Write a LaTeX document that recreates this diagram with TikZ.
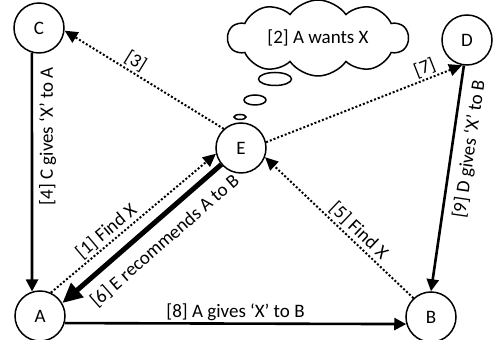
\documentclass[tikz,border=0pt]{standalone}
\usepackage{fontspec}
\setmainfont{Carlito}
\usetikzlibrary{arrows.meta,shapes.symbols}

\begin{document}
\begin{tikzpicture}[x=0.5pt,y=0.5pt,font=\fontsize{9.5}{11}\selectfont,
  agent/.style={draw, circle, line width=0.75pt, minimum size=25pt, inner sep=0pt},
  ask/.style={line width=1pt, densely dotted, -{Triangle[length=6.5pt,width=6pt]}},
  give/.style={line width=1.3pt, -{Triangle[length=6pt,width=6pt]}},
  lbl/.style={inner sep=1pt}]
\useasboundingbox (0,0) rectangle (494,340);
% the five parties
\node[agent] (C) at (39,312) {C};
\node[agent] (D) at (467,300) {D};
\node[agent] (E) at (241,192) {E};
\node[agent] (A) at (40,24) {A};
\node[agent] (B) at (431,23) {B};
% thought of E
\node[cloud, draw, line width=0.75pt, cloud puffs=10, cloud puff arc=110, aspect=2.8,
  minimum width=90pt, minimum height=38pt, inner sep=0pt] (wish) at (318,302) {[2] A wants X};
\draw[line width=0.75pt] (275,261) ellipse [x radius=16.5, y radius=6.5];
\draw[line width=0.75pt] (255,240) ellipse [x radius=11, y radius=5];
\draw[line width=0.75pt] (240,223) ellipse [x radius=6, y radius=2.5];
% requests
\draw[ask] (A.65) -- node[lbl, sloped, above, pos=0.38] {[1] Find X} (E.193);
\draw[ask] (E.132) -- node[lbl, sloped, above, pos=0.59] {[3]} (C.354);
\draw[ask] (B.133) -- node[lbl, sloped, above, pos=0.42] {[5] Find X} (E.339);
\draw[ask] (E.13) -- node[lbl, sloped, above, pos=0.83] {[7]} (D.259);
% deliveries
\draw[give] (C.254) -- node[lbl, rotate=90, anchor=north, pos=0.35, inner sep=3pt] {[4] C gives ‘X’ to A} (A.108);
\draw[give] (A.344) -- node[lbl, above] {[8] A gives ‘X’ to B} (B.196);
\draw[give] (D.263) -- node[lbl, sloped, below, pos=0.36, yshift=-3pt] {[9] D gives ‘X’ to B} (B.90);
\draw[line width=2.5pt, -{Triangle[length=10pt,width=9pt]}] (E.220) -- node[lbl, sloped, below=4pt, pos=0.44] {[6] E recommends A to B} (A.30);
\end{tikzpicture}
\end{document}
